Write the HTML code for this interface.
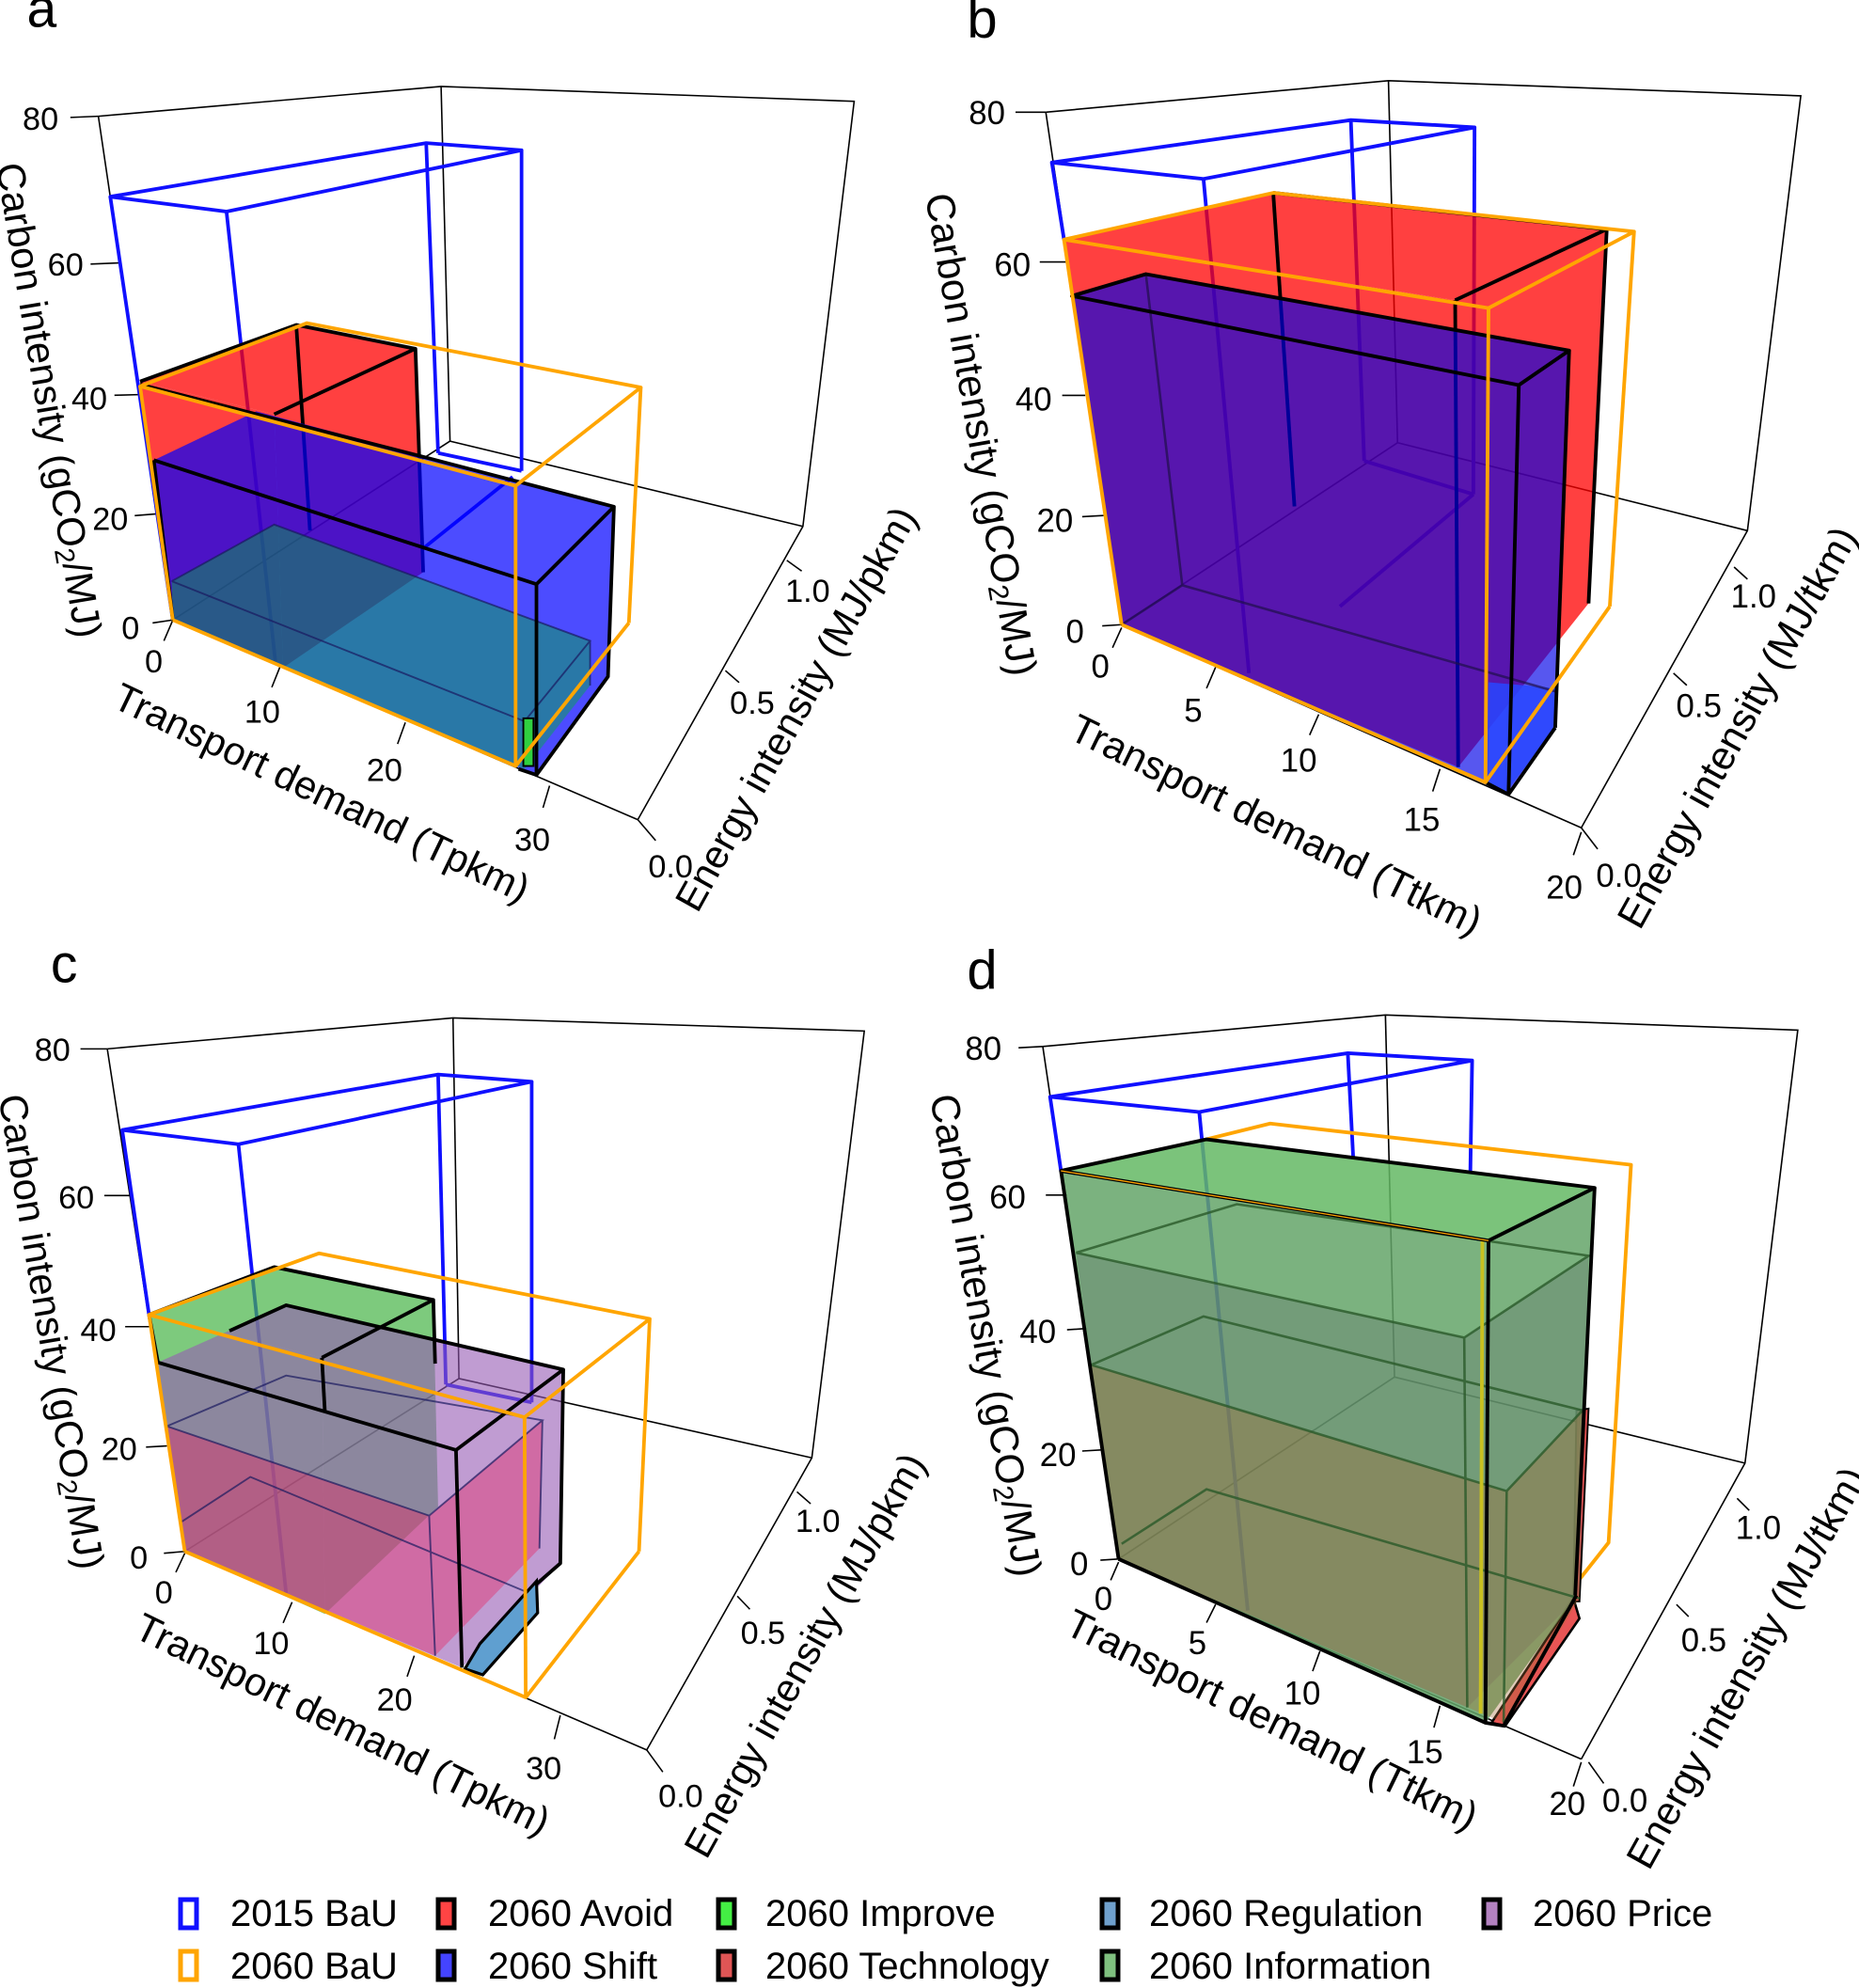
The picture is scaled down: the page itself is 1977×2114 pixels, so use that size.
<!DOCTYPE html>
<html><head><meta charset="utf-8"><style>
html,body{margin:0;padding:0;background:#fff;}
svg{display:block;}
text{font-family:"Liberation Sans",sans-serif;fill:#000;}
.fr{stroke:#000;stroke-width:2.5;fill:none;}
.tk{font-size:54px;}
.ti{font-size:66px;}
.bl{stroke:#1010ff;stroke-width:6;fill:none;stroke-linejoin:round;}
.or{stroke:#ffa500;stroke-width:6;fill:none;stroke-linejoin:round;}
.bk{stroke:#000;stroke-width:6;fill:none;stroke-linejoin:round;}
.th{stroke:#1a1a60;stroke-width:3;fill:none;opacity:.7;}
</style></head><body>
<svg width="1977" height="2114" viewBox="0 0 1977 2114" xmlns="http://www.w3.org/2000/svg">
<rect width="1977" height="2114" fill="#fff"/>

<!-- ============ PANEL A ============ -->
<g transform="scale(0.6339)">
<text x="45" y="45" font-size="90">a</text>
<g class="fr"><polyline points="165,195 740,145 1433,170 1347,883 1070,1375"/><line x1="740" y1="145" x2="755" y2="740"/><line x1="755" y1="740" x2="1347" y2="883"/><line x1="755" y1="740" x2="290" y2="1040"/><line x1="165" y1="195" x2="290" y2="1040"/><line x1="290" y1="1040" x2="1070" y2="1375"/>
<line x1="118" y1="197" x2="165" y2="195"/><line x1="152" y1="443" x2="200" y2="441"/><line x1="192" y1="663" x2="233" y2="662"/><line x1="226" y1="865" x2="263" y2="862"/><line x1="256" y1="1045" x2="290" y2="1040"/>
<line x1="290" y1="1040" x2="275" y2="1075"/><line x1="470" y1="1118" x2="456" y2="1153"/><line x1="680" y1="1212" x2="667" y2="1248"/><line x1="922" y1="1318" x2="911" y2="1355"/>
<line x1="1070" y1="1375" x2="1100" y2="1410"/><line x1="1217" y1="1125" x2="1240" y2="1145"/><line x1="1320" y1="940" x2="1345" y2="958"/></g>
<g class="tk" text-anchor="end"><text x="98" y="218">80</text><text x="140" y="462">60</text><text x="180" y="687">40</text><text x="215" y="889">20</text><text x="234" y="1072">0</text></g>
<g class="tk" text-anchor="middle"><text x="258" y="1128">0</text><text x="440" y="1212">10</text><text x="645" y="1310">20</text><text x="893" y="1427">30</text><text x="1125" y="1472">0.0</text><text x="1262" y="1197">0.5</text><text x="1355" y="1010">1.0</text></g>
<text class="ti" text-anchor="middle" transform="translate(60,675) rotate(80.5)">Carbon intensity (gCO<tspan font-size="46" dy="10">2</tspan><tspan dy="-10">/MJ)</tspan></text>
<text class="ti" text-anchor="middle" transform="translate(530,1350) rotate(25.6)">Transport demand (Tpkm)</text>
<text class="ti" text-anchor="middle" transform="translate(1355,1200) rotate(-61)">Energy intensity (MJ/pkm)</text>
<g class="bl"><polygon points="185,330 715,240 875,252 380,355"/><line x1="185" y1="330" x2="290" y2="1040"/><line x1="380" y1="355" x2="462" y2="1110"/><line x1="715" y1="240" x2="735" y2="760"/><line x1="875" y1="252" x2="875" y2="790"/><line x1="735" y1="760" x2="875" y2="790"/><line x1="860" y1="800" x2="710" y2="920"/></g>
<g fill="rgba(255,0,0,0.75)"><polygon points="235,640 497,545 697,585 460,695"/><polygon points="235,640 460,695 475,1120 290,1040"/><polygon points="460,695 697,585 710,960 475,1120"/></g>
<g class="bk"><polyline points="235,640 497,545 697,585 710,960"/><line x1="497" y1="545" x2="520" y2="890"/><line x1="697" y1="585" x2="460" y2="695"/></g>
<g fill="rgba(0,0,255,0.7)"><polygon points="258,772 430,690 1030,850 900,980"/><polygon points="258,772 900,980 900,1300 290,1040"/><polygon points="900,980 1030,850 1020,1135 900,1300"/></g>
<g fill="rgba(0,175,60,0.45)"><polygon points="288,975 460,880 990,1075 880,1210"/><polygon points="288,975 880,1210 880,1290 290,1040"/><polygon points="880,1210 990,1075 990,1150 880,1290"/></g>
<g class="th"><polyline points="288,975 880,1210 990,1075 460,880 288,975"/><line x1="990" y1="1075" x2="990" y2="1150"/></g>
<rect x="878" y="1205" width="17" height="80" fill="#30d040" stroke="#000" stroke-width="3"/>
<g class="bk"><polyline points="258,772 900,980 1030,850"/><polyline points="235,645 705,765 1030,850 1020,1135 900,1300 900,980"/><line x1="258" y1="772" x2="290" y2="1040"/><line x1="870" y1="1290" x2="900" y2="1300"/></g>
<g class="or"><polygon points="235,648 515,542 1075,650 865,815"/><line x1="235" y1="648" x2="290" y2="1040"/><line x1="865" y1="815" x2="865" y2="1285"/><line x1="1075" y1="650" x2="1055" y2="1045"/><polyline points="290,1040 865,1285 1055,1045"/></g>
</g>

<!-- ============ PANEL B ============ -->
<g transform="translate(980,0) scale(0.6449)">
<text x="75" y="62" font-size="90">b</text>
<g class="fr"><polyline points="205,185 770,133 1450,158 1362,875 1088,1365"/><line x1="770" y1="133" x2="785" y2="730"/><line x1="785" y1="730" x2="1362" y2="875"/><line x1="785" y1="730" x2="330" y2="1030"/><line x1="205" y1="185" x2="330" y2="1030"/><line x1="330" y1="1030" x2="1088" y2="1365"/>
<line x1="155" y1="185" x2="205" y2="185"/><line x1="195" y1="432" x2="240" y2="432"/><line x1="232" y1="652" x2="270" y2="652"/><line x1="265" y1="852" x2="300" y2="850"/><line x1="298" y1="1032" x2="330" y2="1030"/>
<line x1="330" y1="1035" x2="315" y2="1068"/><line x1="485" y1="1100" x2="470" y2="1135"/><line x1="655" y1="1178" x2="640" y2="1212"/><line x1="855" y1="1268" x2="843" y2="1305"/><line x1="1088" y1="1372" x2="1075" y2="1410"/>
<line x1="1088" y1="1365" x2="1115" y2="1400"/><line x1="1240" y1="1110" x2="1262" y2="1130"/><line x1="1340" y1="935" x2="1362" y2="955"/></g>
<g class="tk" text-anchor="end"><text x="138" y="205">80</text><text x="180" y="455">60</text><text x="215" y="677">40</text><text x="250" y="877">20</text><text x="268" y="1060">0</text></g>
<g class="tk" text-anchor="middle"><text x="295" y="1117">0</text><text x="448" y="1190">5</text><text x="622" y="1272">10</text><text x="825" y="1370">15</text><text x="1060" y="1482">20</text><text x="1150" y="1462">0.0</text><text x="1282" y="1182">0.5</text><text x="1372" y="1002">1.0</text></g>
<text class="ti" text-anchor="middle" transform="translate(76,720) rotate(80)">Carbon intensity (gCO<tspan font-size="46" dy="10">2</tspan><tspan dy="-10">/MJ)</tspan></text>
<text class="ti" text-anchor="middle" transform="translate(575,1380) rotate(26)">Transport demand (Ttkm)</text>
<text class="ti" text-anchor="middle" transform="translate(1365,1210) rotate(-61)">Energy intensity (MJ/tkm)</text>
<g class="bl"><polygon points="215,268 708,198 912,210 465,295"/><line x1="465" y1="295" x2="540" y2="1110"/><line x1="708" y1="198" x2="730" y2="760"/><line x1="912" y1="210" x2="910" y2="815"/><line x1="215" y1="268" x2="235" y2="395"/><line x1="730" y1="760" x2="910" y2="815"/><line x1="910" y1="815" x2="690" y2="1000"/></g>
<g fill="rgba(255,0,0,0.75)"><polygon points="235,395 580,318 1130,378 880,495"/><polygon points="235,395 880,495 885,1265 330,1030"/><polygon points="880,495 1130,378 1100,995 885,1265"/></g>
<g class="bk"><polyline points="580,318 1130,378 1100,995"/><line x1="580" y1="318" x2="615" y2="835"/><line x1="1130" y1="378" x2="880" y2="495"/><line x1="880" y1="495" x2="885" y2="1265"/></g>
<g fill="rgba(0,0,230,0.66)"><polygon points="248,488 370,452 1068,578 985,635"/><polygon points="248,488 985,635 968,1310 330,1030"/><polygon points="985,635 1068,578 1045,1200 968,1310"/></g>
<polygon points="930,1290 935,1125 1050,1135 1045,1200 965,1305" fill="rgba(40,70,255,0.85)"/>
<g stroke="#20104a" stroke-width="4" fill="none" opacity=".7"><line x1="370" y1="452" x2="430" y2="965"/><polyline points="330,1030 430,965 1045,1140"/></g>
<g class="bk"><polygon points="248,488 370,452 1068,578 985,635"/><line x1="985" y1="635" x2="968" y2="1310"/><line x1="1068" y1="578" x2="1045" y2="1200"/><polyline points="930,1290 968,1310 1045,1200"/></g>
<g class="or"><polygon points="235,395 580,318 1175,382 935,508"/><line x1="235" y1="395" x2="330" y2="1030"/><line x1="935" y1="508" x2="930" y2="1290"/><line x1="1175" y1="382" x2="1135" y2="1000"/><polyline points="330,1030 930,1290 1135,1000"/></g>
</g>

<!-- ============ PANEL C ============ -->
<g transform="translate(0,1000) scale(0.6339)">
<text x="85" y="70" font-size="90">c</text>
<g class="fr"><polyline points="180,182 760,130 1450,152 1362,868 1085,1358"/><line x1="760" y1="130" x2="770" y2="735"/><line x1="770" y1="735" x2="1362" y2="868"/><line x1="770" y1="735" x2="310" y2="1025"/><line x1="180" y1="182" x2="310" y2="1025"/><line x1="310" y1="1025" x2="1085" y2="1358"/>
<line x1="135" y1="182" x2="180" y2="182"/><line x1="175" y1="428" x2="218" y2="428"/><line x1="210" y1="648" x2="250" y2="648"/><line x1="245" y1="850" x2="280" y2="848"/><line x1="275" y1="1028" x2="310" y2="1025"/>
<line x1="310" y1="1028" x2="295" y2="1060"/><line x1="490" y1="1110" x2="475" y2="1145"/><line x1="695" y1="1200" x2="683" y2="1235"/><line x1="940" y1="1300" x2="930" y2="1340"/>
<line x1="1085" y1="1358" x2="1112" y2="1395"/><line x1="1237" y1="1100" x2="1258" y2="1122"/><line x1="1337" y1="925" x2="1360" y2="945"/></g>
<g class="tk" text-anchor="end"><text x="118" y="202">80</text><text x="158" y="450">60</text><text x="195" y="672">40</text><text x="230" y="872">20</text><text x="248" y="1054">0</text></g>
<g class="tk" text-anchor="middle"><text x="275" y="1112">0</text><text x="455" y="1197">10</text><text x="662" y="1292">20</text><text x="912" y="1407">30</text><text x="1142" y="1454">0.0</text><text x="1280" y="1180">0.5</text><text x="1372" y="992">1.0</text></g>
<text class="ti" text-anchor="middle" transform="translate(64,660) rotate(80.5)">Carbon intensity (gCO<tspan font-size="46" dy="10">2</tspan><tspan dy="-10">/MJ)</tspan></text>
<text class="ti" text-anchor="middle" transform="translate(565,1335) rotate(26)">Transport demand (Tpkm)</text>
<text class="ti" text-anchor="middle" transform="translate(1370,1210) rotate(-61)">Energy intensity (MJ/pkm)</text>
<g class="bl"><polygon points="205,318 735,225 892,237 400,342"/><line x1="205" y1="318" x2="250" y2="628"/><line x1="400" y1="342" x2="480" y2="1095"/><line x1="735" y1="225" x2="748" y2="745"/><line x1="892" y1="237" x2="892" y2="775"/><line x1="748" y1="745" x2="892" y2="775"/></g>
<g fill="rgba(70,180,70,0.7)"><polygon points="250,628 460,548 727,603 540,700"/><polygon points="250,628 540,700 545,1130 310,1025"/><polygon points="540,700 727,603 735,950 545,1130"/></g>
<g fill="rgba(150,90,180,0.6)"><polygon points="265,708 480,612 945,720 765,855"/><polygon points="265,708 765,855 775,1220 310,1025"/><polygon points="765,855 945,720 940,1045 775,1220"/></g>
<g fill="rgba(230,40,100,0.42)"><polygon points="280,815 720,965 730,1200 310,1025"/><polygon points="720,965 910,805 905,1020 730,1200"/></g>
<g class="th"><polyline points="280,815 720,965 910,805 480,730 280,815"/><line x1="720" y1="965" x2="730" y2="1200"/><line x1="910" y1="805" x2="905" y2="1020"/><polyline points="305,975 420,900 900,1100"/></g>
<polygon points="780,1222 805,1180 900,1075 902,1128 810,1232" fill="#5f9fd0" stroke="#000" stroke-width="5"/>
<g class="bk"><polyline points="250,628 460,548 727,603 730,710"/><line x1="727" y1="603" x2="540" y2="700"/><line x1="540" y1="700" x2="545" y2="790"/><polyline points="265,708 765,855 945,720 480,612 385,655"/><line x1="765" y1="855" x2="775" y2="1220"/><polyline points="945,720 940,1045 900,1080"/><line x1="250" y1="628" x2="265" y2="708"/></g>
<g class="or"><polygon points="250,628 535,525 1090,635 880,800"/><line x1="250" y1="628" x2="310" y2="1025"/><line x1="880" y1="800" x2="882" y2="1270"/><line x1="1090" y1="635" x2="1072" y2="1025"/><polyline points="310,1025 882,1270 1072,1025"/></g>
</g>

<!-- ============ PANEL D ============ -->
<g transform="translate(980,1000) scale(0.6449)">
<text x="75" y="80" font-size="90">d</text>
<g class="fr"><polyline points="200,175 765,123 1445,148 1358,862 1088,1350"/><line x1="765" y1="123" x2="780" y2="720"/><line x1="780" y1="720" x2="1358" y2="862"/><line x1="780" y1="720" x2="325" y2="1020"/><line x1="200" y1="175" x2="325" y2="1020"/><line x1="325" y1="1020" x2="1088" y2="1350"/>
<line x1="160" y1="177" x2="200" y2="175"/><line x1="205" y1="420" x2="240" y2="420"/><line x1="240" y1="642" x2="272" y2="640"/><line x1="265" y1="842" x2="300" y2="840"/><line x1="295" y1="1022" x2="325" y2="1020"/>
<line x1="325" y1="1025" x2="312" y2="1055"/><line x1="485" y1="1095" x2="470" y2="1125"/><line x1="657" y1="1172" x2="645" y2="1205"/><line x1="855" y1="1262" x2="845" y2="1298"/><line x1="1088" y1="1355" x2="1075" y2="1395"/>
<line x1="1100" y1="1355" x2="1125" y2="1390"/><line x1="1245" y1="1095" x2="1265" y2="1115"/><line x1="1345" y1="920" x2="1365" y2="940"/></g>
<g class="tk" text-anchor="end"><text x="132" y="197">80</text><text x="172" y="442">60</text><text x="222" y="664">40</text><text x="255" y="867">20</text><text x="275" y="1047">0</text></g>
<g class="tk" text-anchor="middle"><text x="300" y="1104">0</text><text x="455" y="1177">5</text><text x="628" y="1260">10</text><text x="830" y="1357">15</text><text x="1065" y="1442">20</text><text x="1160" y="1437">0.0</text><text x="1290" y="1172">0.5</text><text x="1380" y="987">1.0</text></g>
<text class="ti" text-anchor="middle" transform="translate(84,655) rotate(80)">Carbon intensity (gCO<tspan font-size="46" dy="10">2</tspan><tspan dy="-10">/MJ)</tspan></text>
<text class="ti" text-anchor="middle" transform="translate(568,1305) rotate(26)">Transport demand (Ttkm)</text>
<text class="ti" text-anchor="middle" transform="translate(1380,1210) rotate(-61)">Energy intensity (MJ/tkm)</text>
<g class="bl"><polygon points="212,258 703,186 908,198 458,283"/><line x1="458" y1="283" x2="538" y2="1105"/><line x1="703" y1="186" x2="712" y2="360"/><line x1="908" y1="198" x2="905" y2="385"/><line x1="212" y1="258" x2="230" y2="380"/></g>
<g class="or"><polyline points="470,328 575,302 1170,370 1133,993 1080,1060"/></g>
<polygon points="1080,775 1100,772 1085,1090 1075,1090" fill="#e05050" stroke="#000" stroke-width="3"/>
<polygon points="940,1290 1075,1085 1085,1118 962,1296" fill="#e85555" stroke="#000" stroke-width="4"/>
<g fill="rgba(100,185,100,0.85)"><polygon points="230,380 470,328 1110,408 935,495"/></g>
<g fill="rgba(100,165,105,0.85)"><polygon points="230,380 935,495 930,1290 325,1020"/><polygon points="935,495 1110,408 1080,1080 930,1290"/></g>
<g fill="rgba(95,105,110,0.3)"><polygon points="255,515 895,655 900,1265 325,1020"/><polygon points="895,655 1100,520 1085,1080 900,1265"/></g>
<g fill="rgba(165,105,55,0.35)"><polygon points="280,700 965,908 960,1290 325,1020"/><polygon points="965,908 1090,775 1085,1085 960,1290"/></g>
<g stroke="#2a5a2a" stroke-width="4" fill="none" opacity=".8"><polyline points="255,515 895,655 1100,520 520,435 255,515"/><line x1="895" y1="655" x2="900" y2="1265"/><polyline points="280,700 965,908 1090,775 465,620 280,700"/><line x1="965" y1="908" x2="960" y2="1290"/><polyline points="330,995 470,905 1085,1085"/></g>
<line x1="925" y1="495" x2="922" y2="1275" stroke="#c8c020" stroke-width="6"/>
<g class="bk"><polygon points="230,380 470,328 1110,408 935,495"/><line x1="230" y1="380" x2="325" y2="1020"/><line x1="935" y1="495" x2="930" y2="1290"/><line x1="1110" y1="408" x2="1078" y2="1080"/><polyline points="325,1020 930,1290 960,1295 1080,1080"/></g>
<line x1="230" y1="380" x2="935" y2="495" stroke="#ffa500" stroke-width="2"/>
</g>

<!-- ============ LEGEND ============ -->
<g font-size="40">
<rect x="192" y="2020" width="17" height="30" fill="none" stroke="#1010ff" stroke-width="5"/><text x="245" y="2048">2015 BaU</text>
<rect x="466" y="2020" width="17" height="30" fill="#ff4444" stroke="#000" stroke-width="5"/><text x="519" y="2048">2060 Avoid</text>
<rect x="764" y="2020" width="17" height="30" fill="#44ee44" stroke="#000" stroke-width="5"/><text x="814" y="2048">2060 Improve</text>
<rect x="1172" y="2020" width="17" height="30" fill="#6fa0cc" stroke="#000" stroke-width="5"/><text x="1222" y="2048">2060 Regulation</text>
<rect x="1578" y="2020" width="17" height="30" fill="#b482c0" stroke="#000" stroke-width="5"/><text x="1630" y="2048">2060 Price</text>
<rect x="192" y="2075" width="17" height="30" fill="none" stroke="#ffa500" stroke-width="5"/><text x="245" y="2104">2060 BaU</text>
<rect x="466" y="2075" width="17" height="30" fill="#4444ff" stroke="#000" stroke-width="5"/><text x="519" y="2104">2060 Shift</text>
<rect x="764" y="2075" width="17" height="30" fill="#e05555" stroke="#000" stroke-width="5"/><text x="814" y="2104">2060 Technology</text>
<rect x="1172" y="2075" width="17" height="30" fill="#7fc07f" stroke="#000" stroke-width="5"/><text x="1222" y="2104">2060 Information</text>
</g>
</svg>
</body></html>
